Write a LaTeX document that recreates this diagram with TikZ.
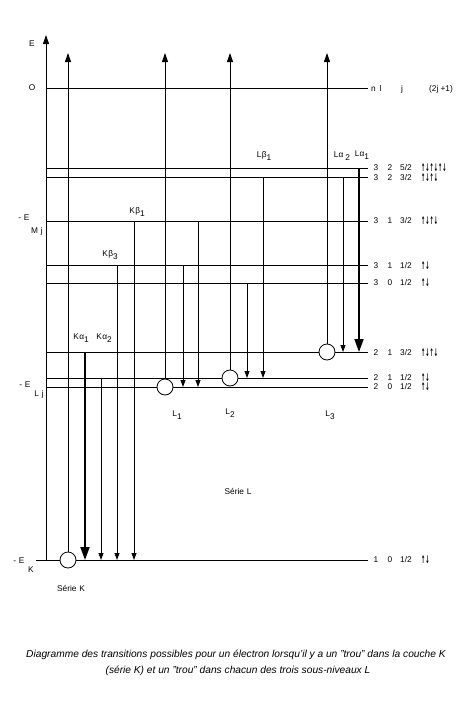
\documentclass[tikz,border=0pt]{standalone}
\usepackage{fontspec}
\usepackage{graphicx}
\setmainfont{Liberation Sans}
\newfontfamily\symfnt{DejaVu Sans}
\usetikzlibrary{arrows.meta}
\newcommand\spinarr[1]{{\symfnt\bfseries\fontsize{10.5}{11}\selectfont\scalebox{0.48}[1]{#1}}}
\newcommand\sbx[1]{\raisebox{-3.5pt}{#1}}
\begin{document}
\begin{tikzpicture}[x=1pt,y=-1pt,font=\fontsize{8.3}{10}\selectfont,
  lvl/.style={line width=0.8pt},
  tr/.style={line width=0.8pt,-{Triangle[length=7pt,width=5pt]}},
  trbig/.style={line width=1.8pt,-{Triangle[length=13pt,width=9pt]}},
  uparr/.style={line width=0.9pt,-{Triangle[length=9pt,width=6pt]}},
  hole/.style={circle,draw,fill=white,line width=0.8pt,minimum size=16pt,inner sep=0pt},
  lab/.style={inner sep=0pt},
  capt/.style={inner sep=0pt,font=\itshape\fontsize{10.2}{12}\selectfont}]
\useasboundingbox (0,0) rectangle (473,712);

% ---- axis
\coordinate (axB) at (46,560);
\coordinate (axT) at (46,35);
\draw[uparr] (axB) -- (axT);
\node[lab] (tE) at (32,44) {E};
\node[lab] (tO) at (32,88) {O};

% ---- levels
\foreach \nm/\yy in {O/88,dA/168,dB/177,pB/221,pA/265,sM/283,Lt/352,Ls/378,Lo/387}{
  \coordinate (\nm l) at (46,\yy);
  \coordinate (\nm r) at (368,\yy);
  \draw[lvl] (\nm l) -- (\nm r);
}
\coordinate (Kl) at (36,560);
\coordinate (Kr) at (368,560);
\draw[lvl] (Kl) -- (Kr);

% ---- left labels
\node[lab] (eM) at (24,218) {-\,\,E};
\node[lab] (eMs) at (37,231) {M\,\,j};
\node[lab] (eL) at (25,385) {-\,\,E};
\node[lab] (eLs) at (39,394) {L\,\,j};
\node[lab] (eK) at (19,561) {-\,\,E};
\node[lab] (eKs) at (31,570) {K};

% ---- K series
\coordinate (ka1s) at (85,352); \coordinate (ka1e) at (85,560);
\draw[trbig] (ka1s) -- (ka1e);
\coordinate (ka2s) at (101,378); \coordinate (ka2e) at (101,560);
\draw[tr] (ka2s) -- (ka2e);
\coordinate (kb3s) at (117,265); \coordinate (kb3e) at (117,560);
\draw[tr] (kb3s) -- (kb3e);
\coordinate (kb1s) at (134,221); \coordinate (kb1e) at (134,560);
\draw[tr] (kb1s) -- (kb1e);
\node[lab] (tka1) at (81,338) {K\kern0.5ptα\sbx{1}};
\node[lab] (tka2) at (104,338) {K\kern0.5ptα\sbx{2}};
\node[lab] (tkb3) at (110,255) {K\kern0.5ptβ\sbx{3}};
\node[lab] (tkb1) at (137,212) {K\kern0.5ptβ\sbx{1}};

% ---- L1 series
\coordinate (l1as) at (183,265); \coordinate (l1ae) at (183,387);
\draw[tr] (l1as) -- (l1ae);
\coordinate (l1bs) at (198,221); \coordinate (l1be) at (198,387);
\draw[tr] (l1bs) -- (l1be);
% ---- L2 series
\coordinate (l2as) at (247,283); \coordinate (l2ae) at (247,378);
\draw[tr] (l2as) -- (l2ae);
\coordinate (l2bs) at (263,177); \coordinate (l2be) at (263,378);
\draw[tr] (l2bs) -- (l2be);
\node[lab] (tlb1) at (264,156) {L\kern0.5ptβ\sbx{1}};
% ---- L3 series
\coordinate (la2s) at (343,177); \coordinate (la2e) at (343,352);
\draw[tr] (la2s) -- (la2e);
\coordinate (la1s) at (359,168); \coordinate (la1e) at (359,352);
\draw[trbig] (la1s) -- (la1e);
\node[lab] (tla2) at (342,156) {Lα\kern2pt\sbx{2}};
\node[lab] (tla1) at (362,155) {Lα\sbx{1}};

% ---- holes and ionisation arrows
\node[hole] (hK) at (68,560) {};
\node[hole] (hL1) at (165,387) {};
\node[hole] (hL2) at (230,378) {};
\node[hole] (hL3) at (327,352) {};
\coordinate (tK) at (68,53);
\coordinate (tL1) at (165,53);
\coordinate (tL2) at (230,53);
\coordinate (tL3) at (327,53);
\draw[uparr] (hK) -- (tK);
\draw[uparr] (hL1) -- (tL1);
\draw[uparr] (hL2) -- (tL2);
\draw[uparr] (hL3) -- (tL3);

\node[lab] (tL1n) at (177,415) {L\sbx{1}};
\node[lab] (tL2n) at (230,413) {L\sbx{2}};
\node[lab] (tL3n) at (330,415) {L\sbx{3}};
\node[lab] (serL) at (238,491) {Série\,\,L};
\node[lab] (serK) at (71,588) {Série\,\,K};

% ---- right-hand quantum numbers
\node[lab,anchor=west] (hdn) at (371,88) {n\,\,\,l};
\node[lab] (hdj) at (402,89) {j};
\node[lab] (hdg) at (441,89) {(2j +1)};
\foreach \nm/\yy/\a/\b/\c/\s in {
  rdA/168/3/2/5\slash2/↑↓↑↓↑↓,
  rdB/178/3/2/3\slash2/↑↓↑↓,
  rpB/221/3/1/3\slash2/↑↓↑↓,
  rpA/266/3/1/1\slash2/↑↓,
  rsM/283/3/0/1\slash2/↑↓,
  rLt/353/2/1/3\slash2/↑↓↑↓,
  rLs/378/2/1/1\slash2/↑↓,
  rLo/387/2/0/1\slash2/↑↓,
  rK/560/1/0/1\slash2/↑↓}{
  \node[lab] (\nm n) at (376,\yy) {\a};
  \node[lab] (\nm l) at (390,\yy) {\b};
  \node[lab] (\nm j) at (406,\yy) {\c};
  \node[lab,anchor=west] (\nm s) at (421,\yy) {\spinarr{\s}};
}

% ---- caption
\node[capt] (cap1) at (236,655) {Diagramme des transitions possibles pour un électron lorsqu'il y a un "trou" dans la couche K};
\node[capt] (cap2) at (238,671) {(série K) et un "trou" dans chacun des trois sous-niveaux L};
\end{tikzpicture}
\end{document}
